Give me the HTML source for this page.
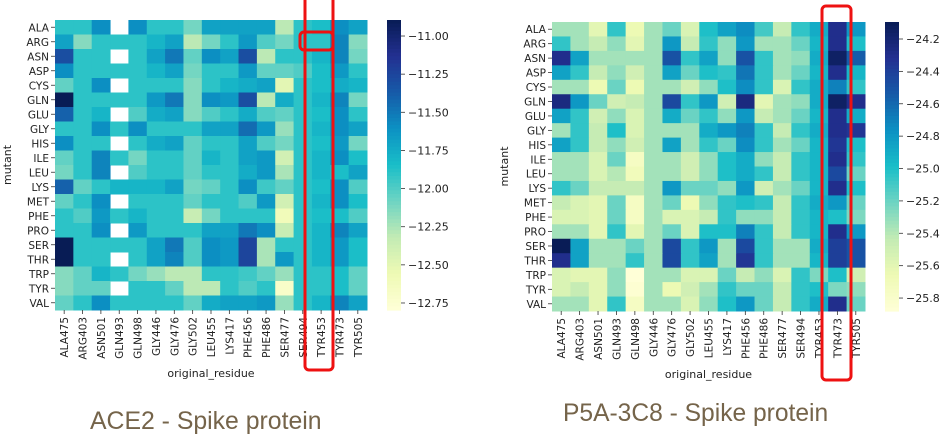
<!DOCTYPE html>
<html><head><meta charset="utf-8"><style>
body{margin:0;background:#fff;}
svg{display:block;font-family:"DejaVu Sans","Liberation Sans",sans-serif;}
</style></head><body>
<svg id="s" width="945" height="438" viewBox="0 0 945 438"></svg>
<script>
const mutants=["ALA","ARG","ASN","ASP","CYS","GLN","GLU","GLY","HIS","ILE","LEU","LYS","MET","PHE","PRO","SER","THR","TRP","TYR","VAL"];
const residues=["ALA475","ARG403","ASN501","GLN493","GLN498","GLY446","GLY476","GLY502","LEU455","LYS417","PHE456","PHE486","SER477","SER494","TYR453","TYR473","TYR505"];
const aceTicks=[-11.00,-11.25,-11.50,-11.75,-12.00,-12.25,-12.50,-12.75];
const p5aTicks=[-24.2,-24.4,-24.6,-24.8,-25.0,-25.2,-25.4,-25.6,-25.8];
const N=null;
const aceValues=[
[-11.9,-11.9,-11.6,N,-11.6,-11.9,-11.9,-12.1,-11.7,-11.7,-11.7,-11.7,-12.3,-11.9,-11.85,-11.6,-11.7],
[-11.7,-12.15,-11.9,-11.9,-11.9,-11.8,-11.7,-12.3,-12.1,-11.9,-11.65,-12.0,-12.1,-11.9,-11.9,-11.55,-12.15],
[-11.3,-11.9,-11.9,N,-11.9,-11.7,-11.5,-12.05,-11.6,-11.7,-11.3,-12.3,-11.9,-11.9,-11.8,-11.55,-12.1],
[-11.6,-11.9,-11.9,-11.9,-11.9,-11.8,-11.7,-12.1,-11.9,-11.9,-11.65,-12.05,-12.05,-12.0,-11.85,-11.65,-11.9],
[-12.05,-11.9,-11.6,N,-11.9,-11.9,-11.9,-12.15,-11.9,-11.8,-11.75,-11.7,-12.5,-11.9,-11.85,-11.75,-11.8],
[-10.85,-11.9,-11.9,-11.9,-11.9,-11.65,-11.5,-12.15,-11.6,-11.65,-11.3,-12.3,-11.75,-11.9,-11.8,-11.55,-12.1],
[-11.4,-11.9,-11.8,N,-12.0,-11.75,-11.7,-12.15,-12.0,-11.9,-11.75,-12.0,-12.05,-11.9,-11.85,-11.6,-11.9],
[-11.9,-11.9,-11.6,-11.9,-11.6,-11.9,-11.9,-11.9,-11.7,-11.7,-11.45,-11.65,-12.2,-11.9,-11.8,-11.6,-11.7],
[-11.6,-11.9,-11.9,N,-11.9,-11.75,-11.7,-12.05,-11.9,-11.9,-11.7,-12.0,-12.1,-11.9,-11.85,-11.65,-12.1],
[-12.05,-11.9,-11.55,-11.9,-12.1,-11.9,-11.9,-12.05,-11.8,-11.9,-11.7,-11.65,-12.4,-11.9,-11.8,-11.6,-11.85],
[-12.1,-11.9,-11.55,N,-12.0,-11.9,-11.9,-12.05,-11.9,-11.9,-11.75,-11.65,-12.25,-11.9,-11.8,-11.85,-11.7],
[-11.4,-12.05,-11.9,-11.8,-11.8,-11.8,-11.7,-12.1,-12.05,-11.9,-11.6,-11.95,-12.05,-11.9,-11.85,-11.6,-12.0],
[-12.05,-11.9,-11.6,N,-11.9,-11.9,-11.9,-12.05,-11.9,-11.9,-12.0,-11.65,-12.4,-11.9,-11.8,-11.6,-11.85],
[-11.9,-12.0,-11.65,-11.9,-11.8,-11.9,-11.9,-12.35,-12.1,-11.9,-11.9,-11.9,-12.6,-11.9,-11.85,-11.85,-12.0],
[-11.9,-11.9,-11.6,N,-11.65,-11.9,-11.9,-11.9,-11.7,-11.7,-11.5,-11.6,-12.35,-11.9,-11.8,-11.55,-11.7],
[-10.85,-11.9,-11.9,-11.9,-11.9,-11.7,-11.5,-12.0,-11.6,-11.65,-11.25,-12.25,-11.9,-11.9,-11.8,-11.65,-11.85],
[-10.85,-11.9,-11.9,N,-11.9,-11.7,-11.55,-12.0,-11.6,-11.65,-11.25,-12.25,-11.65,-11.9,-11.8,-11.65,-11.85],
[-12.15,-12.05,-11.8,-11.9,-12.1,-12.2,-12.3,-12.3,-11.9,-11.9,-11.95,-12.05,-12.2,-11.9,-11.9,-11.85,-12.05],
[-12.15,-12.05,-12.05,N,-11.9,-11.9,-12.05,-12.3,-12.3,-11.9,-12.0,-11.9,-12.7,-11.9,-11.9,-11.85,-12.05],
[-12.05,-11.9,-11.6,-11.9,-11.9,-11.9,-11.9,-12.05,-11.75,-11.7,-11.7,-11.65,-12.2,-11.9,-11.8,-11.55,-11.7]];
const p5aValues=[
[-25.35,-25.35,-25.6,-25.05,-25.65,-25.35,-25.2,-25.55,-25.0,-24.85,-24.75,-25.1,-25.45,-25.05,-24.9,-24.3,-24.8],
[-25.05,-25.35,-25.45,-25.3,-25.6,-25.35,-24.8,-25.45,-25.05,-25.3,-24.8,-25.35,-25.35,-25.2,-24.95,-24.3,-25.0],
[-24.3,-24.85,-25.35,-25.35,-25.35,-25.35,-24.5,-25.05,-24.85,-25.3,-24.5,-25.05,-25.35,-25.3,-24.9,-24.15,-24.55],
[-24.85,-25.05,-25.45,-25.3,-25.5,-25.35,-24.85,-25.2,-25.0,-25.05,-24.65,-25.05,-25.35,-25.2,-24.95,-24.3,-24.95],
[-25.35,-25.35,-25.65,-25.2,-25.65,-25.35,-25.35,-25.5,-25.3,-25.0,-24.75,-25.05,-25.55,-25.05,-24.9,-24.7,-25.05],
[-24.25,-24.8,-25.2,-25.5,-25.45,-25.35,-24.45,-25.05,-24.8,-25.5,-24.25,-25.6,-25.35,-25.3,-24.9,-24.15,-24.3],
[-24.85,-25.05,-25.5,-25.3,-25.55,-25.35,-24.9,-25.2,-25.05,-25.3,-24.8,-25.45,-25.35,-25.2,-24.95,-24.3,-24.9],
[-25.35,-25.05,-25.45,-25.0,-25.55,-25.35,-25.35,-25.35,-24.9,-24.8,-24.7,-25.05,-25.45,-25.05,-24.9,-24.3,-24.35],
[-24.85,-25.05,-25.45,-25.3,-25.5,-25.35,-24.85,-25.35,-25.05,-25.2,-24.75,-25.05,-25.35,-25.2,-24.95,-24.35,-25.0],
[-25.35,-25.35,-25.55,-25.2,-25.75,-25.35,-25.35,-25.5,-25.3,-25.0,-24.9,-25.3,-25.45,-25.05,-24.95,-24.3,-25.05],
[-25.35,-25.35,-25.55,-25.4,-25.7,-25.35,-25.35,-25.5,-25.3,-25.0,-24.9,-25.05,-25.45,-25.05,-24.95,-24.45,-25.2],
[-25.05,-25.2,-25.45,-25.45,-25.45,-25.35,-24.8,-25.2,-25.2,-25.3,-24.8,-25.5,-25.35,-25.2,-24.95,-24.3,-25.0],
[-25.45,-25.55,-25.6,-25.2,-25.75,-25.35,-25.2,-25.65,-25.3,-25.05,-25.0,-25.05,-25.45,-25.05,-24.9,-24.8,-25.2],
[-25.55,-25.55,-25.6,-25.2,-25.75,-25.35,-25.55,-25.55,-25.45,-25.05,-25.3,-25.3,-25.45,-25.05,-24.95,-25.0,-25.25],
[-25.35,-25.35,-25.6,-25.05,-25.6,-25.35,-25.2,-25.55,-25.0,-25.0,-24.7,-25.05,-25.45,-25.05,-24.95,-24.3,-24.8],
[-24.1,-24.85,-25.35,-25.35,-25.2,-25.35,-24.45,-25.05,-24.8,-25.35,-24.45,-25.05,-25.35,-25.35,-24.9,-24.4,-24.5],
[-24.3,-24.85,-25.35,-25.35,-25.05,-25.35,-24.45,-25.05,-24.85,-25.35,-24.35,-25.05,-25.35,-25.35,-24.95,-24.4,-24.5],
[-25.55,-25.6,-25.6,-25.3,-25.9,-25.35,-25.35,-25.55,-25.55,-25.2,-25.45,-25.3,-25.55,-25.05,-25.25,-25.0,-25.5],
[-25.55,-25.45,-25.6,-25.3,-25.85,-25.35,-25.65,-25.5,-25.35,-25.05,-25.2,-25.2,-25.45,-25.05,-25.0,-25.25,-25.3],
[-25.35,-25.35,-25.6,-25.05,-25.75,-25.35,-25.35,-25.55,-25.3,-25.0,-24.8,-25.2,-25.45,-25.05,-24.9,-24.3,-25.2]];

const stops=[[255,255,215],[238,250,180],[195,235,180],[110,212,195],[25,190,200],[12,145,195],[22,90,168],[35,48,145],[8,28,85]];
function cmap(t){t=Math.max(0,Math.min(1,t));const p=t*(stops.length-1),i=Math.min(Math.floor(p),stops.length-2),f=p-i;
 const c=stops[i].map((v,k)=>Math.round(v+(stops[i+1][k]-v)*f));return `rgb(${c[0]},${c[1]},${c[2]})`;}
const svg=document.getElementById('s');const NS='http://www.w3.org/2000/svg';
function el(tag,attrs,parent){const e=document.createElementNS(NS,tag);for(const k in attrs)e.setAttribute(k,attrs[k]);(parent||svg).appendChild(e);return e;}

function heatmap(cfg,values,ticks,fmt){
 const g=el('g',{});
 
 
 const cw=(cfg.x1-cfg.x0)/residues.length, ch=(cfg.y1-cfg.y0)/mutants.length;
 const xs=i=>cfg.x0+i*cw, ys=j=>cfg.y0+j*ch;
 const norm=v=>(v-cfg.vmin)/(cfg.vmax-cfg.vmin);
 values.forEach((row,j)=>row.forEach((v,i)=>{
  if(v===null)return;
  const r=el('rect',{x:xs(i),y:ys(j),width:cw+0.5,height:ch+0.5,fill:cmap(norm(v))},g);
  
  
 }));
 mutants.forEach((m,j)=>{
  const y=ys(j)+ch/2;
  el('line',{x1:cfg.x0-4,x2:cfg.x0,y1:y,y2:y,stroke:'#333','stroke-width':0.8},g);
  const t=el('text',{x:cfg.x0-6,y:y+4,'text-anchor':'end','font-size':10.5,fill:'#222'},g);t.textContent=m;
  
  
 });
 residues.forEach((r,i)=>{
  const x=xs(i)+cw/2;
  el('line',{x1:x,x2:x,y1:cfg.y1,y2:cfg.y1+4,stroke:'#333','stroke-width':0.8},g);
  const t=el('text',{x:0,y:0,transform:`translate(${x+4},${cfg.y1+7}) rotate(-90)`,'text-anchor':'end','font-size':10.5,fill:'#222'},g);t.textContent=r;
  
  
 });
 const xt=el('text',{x:(cfg.x0+cfg.x1)/2,y:cfg.y1+67,'text-anchor':'middle','font-size':11,fill:'#222'},g);xt.textContent='original_residue';
 
 
 const yt=el('text',{x:0,y:0,transform:`translate(${cfg.x0-44},${(cfg.y0+cfg.y1)/2}) rotate(-90)`,'text-anchor':'middle','font-size':11,fill:'#222'},g);yt.textContent='mutant';
 
 
 const cb=el('g',{},g);
 
 
 const n=80,h=(cfg.y1-cfg.y0)/n;
 for(let k=0;k<n;k++)el('rect',{x:cfg.cx,y:cfg.y0+k*h,width:14,height:h+0.6,fill:cmap(1-(k+0.5)/n)},cb);
 const cy=v=>cfg.y0+(cfg.vmax-v)/(cfg.vmax-cfg.vmin)*(cfg.y1-cfg.y0);
 ticks.forEach(v=>{const y=cy(v);
  el('line',{x1:cfg.cx+14,x2:cfg.cx+18,y1:y,y2:y,stroke:'#333','stroke-width':0.8},cb);
  const t=el('text',{x:cfg.cx+21,y:y+4,'font-size':11,fill:'#222'},cb);t.textContent=fmt(v).replace('-','\u2212');
  
  
 });
}
heatmap({name:'ace2-heatmap',x0:55,x1:367,y0:20,y1:310,cx:387,vmin:-12.796,vmax:-10.895},aceValues,aceTicks,v=>v.toFixed(2));
heatmap({name:'p5a-heatmap',x0:552,x1:865,y0:22,y1:311,cx:885,vmin:-25.88,vmax:-24.095},p5aValues,p5aTicks,v=>v.toFixed(1));

function box(x,y,w,h,name){const r=el('rect',{x,y,width:w,height:h,rx:4,fill:'none',stroke:'#ee1111','stroke-width':3});
 
 }
box(305,-4,28,374,'highlight-tyr453-column');
box(300,32,33,18,'highlight-arg-tyr453-cell');
box(822,6,29,374,'highlight-tyr473-column');
function title(x,y,s,fs,name){const t=el('text',{x,y,'font-family':'Liberation Sans, sans-serif','font-size':fs,fill:'#75644a'});t.textContent=s;
 
 }
title(90,429,'ACE2 - Spike protein',24.8,'ace2-title');
title(563,421,'P5A-3C8 - Spike protein',24.6,'p5a-title');
</script>
</body></html>
